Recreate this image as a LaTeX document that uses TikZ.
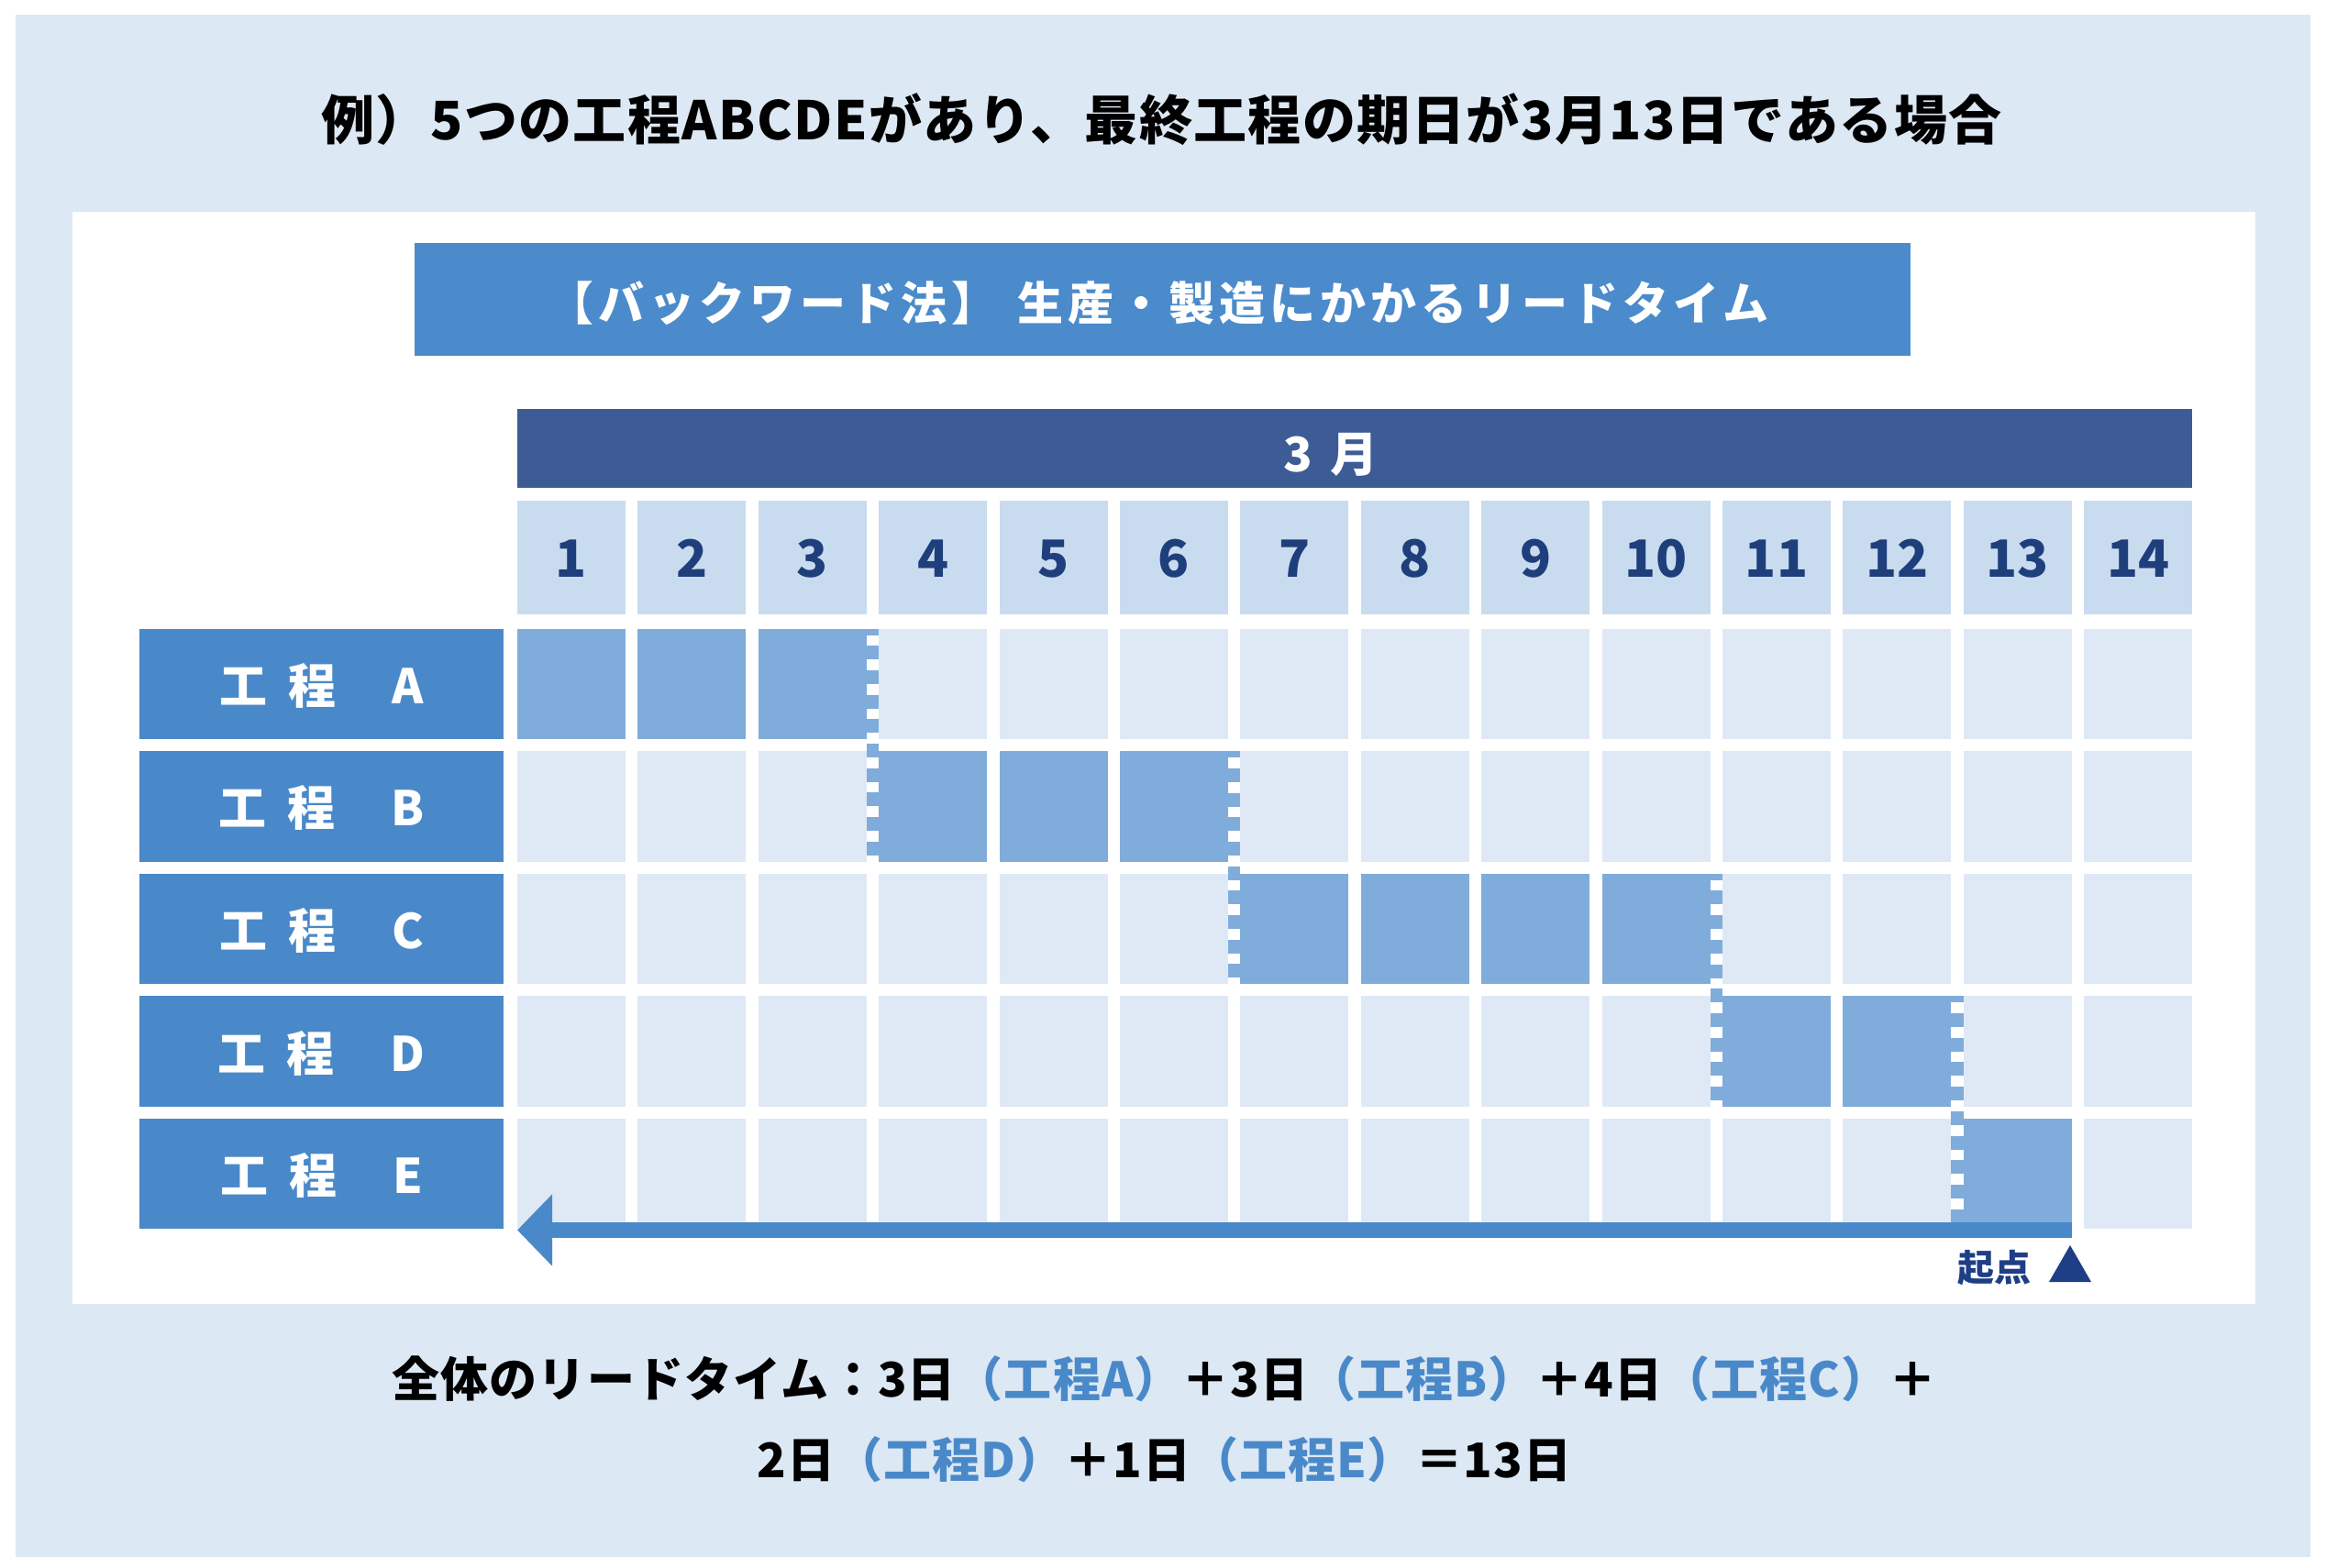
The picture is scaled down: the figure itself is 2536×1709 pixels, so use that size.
\documentclass[tikz,border=0pt]{standalone}
\usepackage{fontspec}
\setmainfont{Noto Sans CJK JP}
\usetikzlibrary{arrows.meta}
\definecolor{bgblue}{HTML}{DCE8F3}
\definecolor{barblue}{HTML}{4B8BCB}
\definecolor{monthblue}{HTML}{3D5B94}
\definecolor{daycell}{HTML}{C9DCEF}
\definecolor{emptycell}{HTML}{DFE9F5}
\definecolor{fillcell}{HTML}{80ACDB}
\definecolor{labelblue}{HTML}{4A89C9}
\definecolor{daynum}{HTML}{1F3E7C}
\definecolor{startblue}{HTML}{1E3F85}
\newcommand\fsz[1]{\fontsize{#1}{#1}\selectfont\bfseries}
\tikzset{
  box/.style={rectangle, draw=none, inner sep=0pt, outer sep=0pt, anchor=north west},
  daybox/.style={box, fill=daycell, minimum width=118pt, minimum height=124pt,
     text=daynum, font=\fsz{56}, text height=43pt, text depth=0pt},
  cellbox/.style={box, minimum width=118pt, minimum height=120.5pt},
  labelbox/.style={box, fill=labelblue, minimum width=397pt, minimum height=120.5pt,
     text=white, font=\fsz{52}, text height=43pt, text depth=0pt},
  titlebar/.style={box, fill=barblue, minimum width=1631pt, minimum height=123pt},
  monthbar/.style={box, fill=monthblue, minimum width=1826pt, minimum height=86pt},
  plaintext/.style={inner sep=0pt, outer sep=0pt, anchor=base},
  leadarrow/.style={draw=labelblue, line width=16.5pt,
     -{Triangle[length=38pt,width=76pt]}},
}
\begin{document}
\begin{tikzpicture}[x=1pt,y=-1pt]
\useasboundingbox (0,0) rectangle (2536,1709);
\fill[white] (0,0) rectangle (2536,1709);
\fill[bgblue] (17,16) rectangle (2519,1698);
\fill[white] (79,231) rectangle (2459,1422);
% headline
\node[plaintext, font=\fsz{58}\addfontfeature{LetterSpace=2.5}] (headline) at (1266.5,152.5)
  {例）5つの工程ABCDEがあり、最終工程の期日が3月13日である場合};
% title bar
\node[titlebar] (tbar) at (452,265) {};
\node[plaintext, font=\fsz{50}\addfontfeature{LetterSpace=10}, text=white] (tbartext) at (1263,349.5)
  {【バックワード法】\hspace{22pt}生産・製造にかかるリードタイム};
% month bar
\node[monthbar] (mbar) at (564,446) {};
\node[plaintext, font=\fsz{52}, text=white] (month) at (1451,514) {3\hspace{20pt}月};
% day header
\foreach \d in {1,...,14} {
  \pgfmathsetmacro\xl{564+(\d-1)*131.4}
  \node[daybox] (day\d) at (\xl,545.5) {\d};
}
% rows
\foreach \r/\nm/\s/\e in {1/A/1/3, 2/B/4/6, 3/C/7/10, 4/D/11/12, 5/E/13/13} {
  \pgfmathsetmacro\yt{685.5+(\r-1)*133.6}
  \node[labelbox] (lbl\nm) at (152,\yt) {工\hspace{23pt}程\hspace{61pt}\nm};
  \foreach \d in {1,...,14} {
    \pgfmathsetmacro\xl{564+(\d-1)*131.4}
    \pgfmathtruncatemacro\isf{and(\d>=\s,\d<=\e)}
    \ifnum\isf=1 \def\cc{fillcell}\else\def\cc{emptycell}\fi
    \node[cellbox, fill=\cc] (cell\nm\d) at (\xl,\yt) {};
  }
}
% dashed hand-over strips
\foreach \k/\r in {3/1, 6/2, 10/3, 12/4} {
  \pgfmathsetmacro\xa{564+(\k-1)*131.4+118}
  \pgfmathsetmacro\xb{564+\k*131.4}
  \pgfmathsetmacro\xm{(\xa+\xb)/2}
  \pgfmathsetmacro\wd{\xb-\xa}
  \pgfmathsetmacro\ya{685.5+(\r-1)*133.6}
  \pgfmathsetmacro\yb{685.5+\r*133.6+120.5}
  \fill[fillcell] (\xa,\ya) rectangle (\xb,\yb);
  \draw[white, line width=\wd pt, dash pattern=on 11.7pt off 15pt, dash phase=19.7pt]
    (\xm,\ya) -- (\xm,\yb);
}
% backward arrow
\coordinate (arrowR) at (2258.8,1341.5);
\coordinate (arrowL) at (564,1341.5);
\draw[leadarrow] (arrowR) -- (arrowL);
% start mark
\node[plaintext, font=\fsz{40}, text=startblue] (start) at (2174.5,1397) {起点};
\fill[startblue] (2234,1398) -- (2280,1398) -- (2257,1358) -- cycle;
% summary
\node[plaintext, font=\fsz{52}\addfontfeature{LetterSpace=2}] (sum1) at (1269.5,1523)
  {全体のリードタイム：3日\textcolor{labelblue}{（工程A）}＋3日\textcolor{labelblue}{（工程B）}＋4日\textcolor{labelblue}{（工程C）}＋};
\node[plaintext, font=\fsz{52}\addfontfeature{LetterSpace=2}] (sum2) at (1269.5,1611)
  {2日\textcolor{labelblue}{（工程D）}＋1日\textcolor{labelblue}{（工程E）}＝13日};
\end{tikzpicture}
\end{document}
